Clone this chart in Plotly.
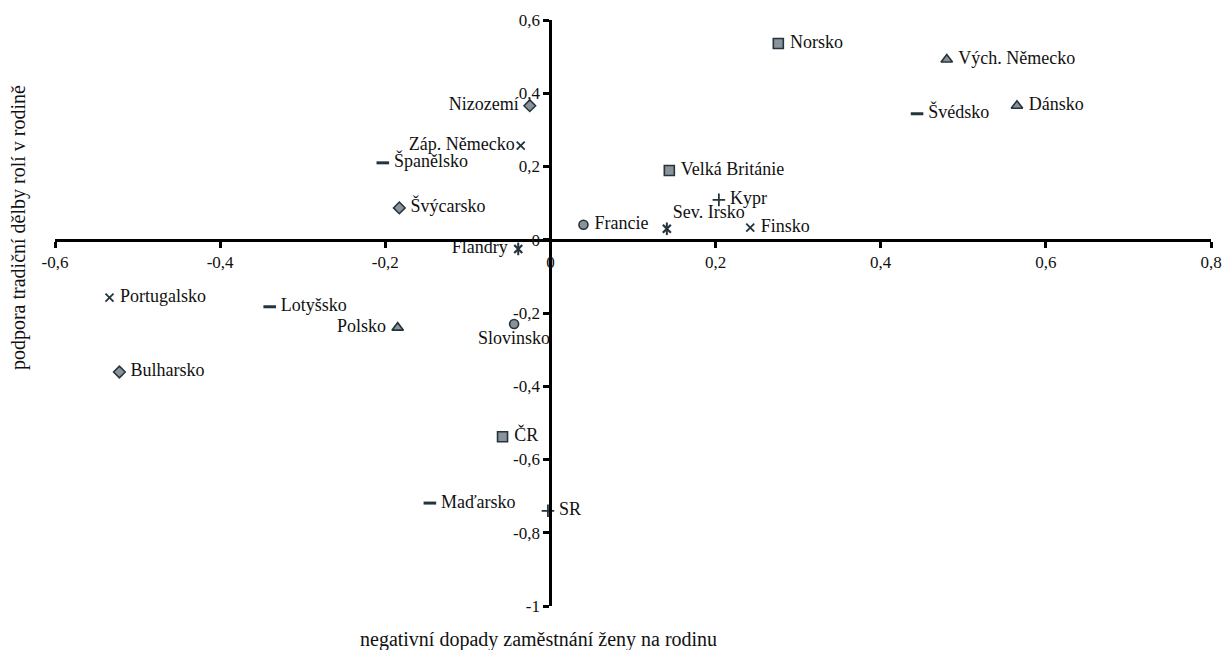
import plotly.graph_objects as go

# data: country, x (negative impact of women's employment), y (support of traditional roles), marker group
countries = ["Norsko", "Vých. Německo", "Dánsko", "Švédsko", "Nizozemí", "Záp. Německo",
             "Španělsko", "Velká Británie", "Švýcarsko", "Kypr", "Francie", "Sev. Irsko",
             "Finsko", "Flandry", "Portugalsko", "Lotyšsko", "Polsko", "Slovinsko",
             "Bulharsko", "ČR", "Maďarsko", "SR"]
x_vals = [0.276, 0.480, 0.565, 0.444, -0.025, -0.036, -0.203, 0.144, -0.183, 0.204, 0.040, 0.141,
          0.242, -0.039, -0.534, -0.340, -0.185, -0.044, -0.522, -0.058, -0.146, -0.003]
y_vals = [0.536, 0.492, 0.366, 0.344, 0.366, 0.257, 0.210, 0.189, 0.087, 0.109, 0.041, 0.030,
          0.033, -0.025, -0.158, -0.183, -0.240, -0.230, -0.361, -0.538, -0.719, -0.740]
groups = ["sq", "tri", "tri", "dash", "dia", "x", "dash", "sq", "dia", "plus", "circ", "ast",
          "x", "ast", "x", "dash", "tri", "circ", "dia", "sq", "dash", "plus"]

x_ticks = [-0.6, -0.4, -0.2, 0, 0.2, 0.4, 0.6, 0.8]
x_ticktext = ["-0,6", "-0,4", "-0,2", "0", "0,2", "0,4", "0,6", "0,8"]
y_ticks = [-1, -0.8, -0.6, -0.4, -0.2, 0, 0.2, 0.4, 0.6]
y_ticktext = ["-1", "-0,8", "-0,6", "-0,4", "-0,2", "0", "0,2", "0,4", "0,6"]

DARK = "#24343c"
FILL = "#8b9299"
FONT = "'Liberation Serif', 'DejaVu Serif', serif"

styles = {
    "sq": dict(symbol="square", size=10, color=FILL, line=dict(color=DARK, width=1.6)),
    "tri": dict(symbol="triangle-up", size=10, color=FILL, line=dict(color=DARK, width=1.6)),
    "dia": dict(symbol="diamond", size=9, color=FILL, line=dict(color=DARK, width=1.5)),
    "circ": dict(symbol="circle", size=9, color=FILL, line=dict(color=DARK, width=1.6)),
    "dash": dict(symbol="line-ew", size=9, color=DARK, line=dict(color=DARK, width=3)),
    "x": dict(symbol="x-thin", size=8, color=DARK, line=dict(color=DARK, width=1.8)),
    "plus": dict(symbol="cross-thin", size=9, color=DARK, line=dict(color=DARK, width=1.8)),
    "ast": dict(symbol="x-thin", size=8, color=DARK, line=dict(color=DARK, width=2.2)),
}
label_pos = {
    "Nizozemí": "middle left", "Záp. Německo": "middle left", "Flandry": "middle left",
    "Polsko": "middle left", "Slovinsko": "bottom center", "Sev. Irsko": "top right",
}
no_pad = {"Sev. Irsko", "Záp. Německo"}


def pad(name):
    pos = label_pos.get(name, "middle right")
    if name in no_pad:
        return name
    if pos.endswith("right"):
        return " " + name
    if pos.endswith("left"):
        return name + " "
    return name


fig = go.Figure()
for g, st in styles.items():
    idx = [i for i, gg in enumerate(groups) if gg == g]
    xs = [x_vals[i] for i in idx]
    ys = [y_vals[i] for i in idx]
    if g == "ast":
        # vertical stroke of the asterisk-like marker
        fig.add_trace(go.Scatter(x=xs, y=ys, mode="markers", showlegend=False, hoverinfo="skip",
                                 marker=dict(symbol="line-ns", size=9, line=dict(color=DARK, width=2)),
                                 cliponaxis=False))
    fig.add_trace(go.Scatter(
        x=xs, y=ys,
        text=[pad(countries[i]) for i in idx], mode="markers+text",
        textposition=[label_pos.get(countries[i], "middle right") for i in idx],
        textfont=dict(family=FONT, size=18, color="#111"),
        marker=st, showlegend=False, cliponaxis=False,
    ))

axis_common = dict(showgrid=False, zeroline=False, showline=True, linecolor="black", linewidth=3,
                   ticks="outside", ticklen=6, tickwidth=3, tickcolor="black", automargin=False,
                   tickfont=dict(family=FONT, size=17, color="#111"), anchor="free")
fig.update_xaxes(range=[-0.6, 0.8], tickvals=x_ticks, ticktext=x_ticktext,
                 position=(0 - (-1)) / 1.6, **axis_common)
fig.update_yaxes(range=[-1, 0.6], tickvals=y_ticks, ticktext=y_ticktext,
                 position=(0 - (-0.6)) / 1.4, **axis_common)

fig.add_annotation(text="negativní dopady zaměstnání ženy na rodinu", xref="paper", yref="paper",
                   x=0.418, y=-0.058, showarrow=False, xanchor="center", yanchor="middle",
                   font=dict(family=FONT, size=20, color="#111"))
fig.add_annotation(text="podpora tradiční dělby rolí v rodině", xref="paper", yref="paper",
                   x=-0.032, y=0.645, showarrow=False, textangle=-90, xanchor="center",
                   yanchor="middle", font=dict(family=FONT, size=20, color="#111"))

fig.update_layout(width=1223, height=650, margin=dict(l=55, r=12, t=20, b=44, autoexpand=False),
                  plot_bgcolor="white", paper_bgcolor="white", font=dict(family=FONT))
fig.write_html("out.html", config={"displayModeBar": False},
               post_script="document.body.style.margin='0';")
